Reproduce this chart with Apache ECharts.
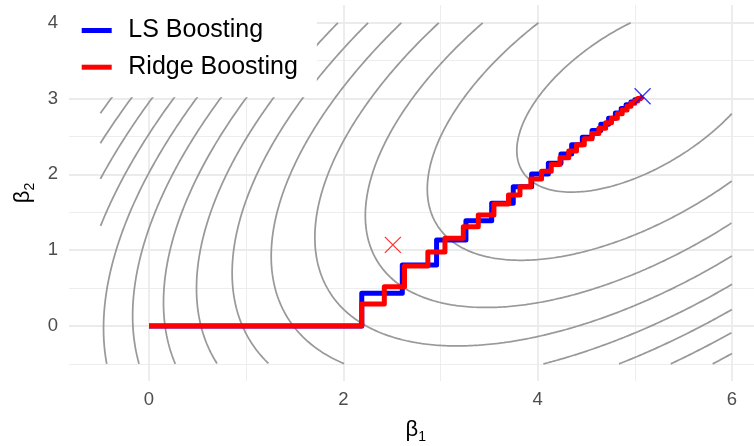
<!DOCTYPE html>
<html><head><meta charset="utf-8">
<script src="https://cdn.jsdelivr.net/npm/echarts@6/dist/echarts.min.js"></script>
<style>html,body{margin:0;padding:0;background:#fff}#c{width:754px;height:446px}</style>
</head><body><div id="c"></div>
<script>
// ---- data ----
// staircase corner points (horizontal move, then vertical move)
const lsX = [0, 2.19, 2.607, 2.96, 3.262, 3.527, 3.749, 3.938, 4.11, 4.24, 4.35, 4.46, 4.56, 4.65, 4.73, 4.80, 4.86, 4.91, 4.96, 5.00, 5.03, 5.06, 5.08];
const lsY = [0, 0.431, 0.805, 1.135, 1.389, 1.619, 1.838, 2.005, 2.146, 2.27, 2.39, 2.49, 2.58, 2.66, 2.74, 2.81, 2.87, 2.92, 2.955, 2.985, 3.005, 3.02, 3.03];
const ridgeX = [0, 2.19, 2.422, 2.63, 2.87, 3.046, 3.235, 3.389, 3.55, 3.70, 3.818, 3.93, 4.04, 4.14, 4.23, 4.32, 4.40, 4.48, 4.56, 4.63, 4.70, 4.76, 4.82, 4.87, 4.92, 4.96, 5.00, 5.03, 5.06, 5.08];
const ridgeY = [0, 0.29, 0.519, 0.79, 0.975, 1.157, 1.31, 1.464, 1.61, 1.728, 1.838, 1.94, 2.04, 2.13, 2.22, 2.31, 2.39, 2.47, 2.54, 2.61, 2.68, 2.74, 2.80, 2.85, 2.90, 2.94, 2.97, 3.00, 3.02, 3.03];
const lsMarker = [5.08, 3.03];
const ridgeMarker = [2.51, 1.07];
// contour function Q = a*dx^2 + 2*h*dx*dy + d*dy^2 around the LS solution
const contourCenter = [5.08, 3.03];
const contourForm = [1, -0.579, 1.049];
const contourLevels = [1.14, 3.34, 5.54, 7.74, 9.94, 12.14, 14.34, 16.54, 18.74, 20.94, 23.14, 25.34, 27.54, 29.74, 31.94, 34.14, 36.34, 38.54];
const contourRangeX = [-0.5, 6];
const contourRangeY = [-0.5, 4];
const xTicks = [0, 2, 4, 6];
const xMinor = [1, 3, 5];
const yTicks = [0, 1, 2, 3, 4];
const yMinor = [-0.5, 0.5, 1.5, 2.5, 3.5];
const seriesNames = ['LS Boosting', 'Ridge Boosting'];

const FONT = 'Liberation Sans, Arial, sans-serif';

function contourArcs(L) {
  const [a, h, d] = contourForm;
  const [c1, c2] = contourCenter;
  const tr = a + d, det = a * d - h * h;
  const disc = Math.sqrt(tr * tr / 4 - det);
  const l1 = tr / 2 + disc, l2 = tr / 2 - disc;
  let v1 = [l1 - d, h];
  const n = Math.hypot(v1[0], v1[1]);
  v1 = [v1[0] / n, v1[1] / n];
  const v2 = [-v1[1], v1[0]];
  const r1 = Math.sqrt(L / l1), r2 = Math.sqrt(L / l2);
  const pt = t => {
    const u = r1 * Math.cos(t), w = r2 * Math.sin(t);
    return [c1 + u * v1[0] + w * v2[0], c2 + u * v1[1] + w * v2[1]];
  };
  const inside = p => p[0] >= contourRangeX[0] && p[0] <= contourRangeX[1] && p[1] >= contourRangeY[0] && p[1] <= contourRangeY[1];
  const N = 2000;
  let t0 = null;
  for (let i = 0; i < N; i++) { const t = 2 * Math.PI * i / N; if (!inside(pt(t))) { t0 = t; break; } }
  if (t0 === null) {
    const arr = [];
    for (let i = 0; i <= N; i++) arr.push(pt(2 * Math.PI * i / N));
    return [arr];
  }
  const edge = (tin, tout) => {
    for (let k = 0; k < 40; k++) { const m = (tin + tout) / 2; if (inside(pt(m))) tin = m; else tout = m; }
    return pt(tin);
  };
  const arcs = [];
  let cur = null, prevT = t0, prevIn = false;
  for (let i = 1; i <= N; i++) {
    const t = t0 + 2 * Math.PI * i / N;
    const p = pt(t), ins = inside(p);
    if (ins && !prevIn) { cur = [edge(t, prevT)]; cur.push(p); }
    else if (ins && prevIn) { cur.push(p); }
    else if (!ins && prevIn) { cur.push(edge(prevT, t)); arcs.push(cur); cur = null; }
    prevT = t; prevIn = ins;
  }
  return arcs;
}

const series = [];
contourLevels.forEach(L => {
  contourArcs(L).forEach(arc => {
    series.push({
      type: 'line', data: arc, showSymbol: false, symbol: 'none', silent: true, z: 1,
      lineStyle: { color: '#999999', width: 1.75 }, animation: false
    });
  });
});
series.push({
  name: seriesNames[0], type: 'line', step: 'end', color: '#0000FF',
  data: lsX.map((x, i) => [x, lsY[i]]), showSymbol: false, symbol: 'none', z: 3,
  lineStyle: { color: '#0000FF', width: 5, join: 'round' }, animation: false
});
series.push({
  name: seriesNames[1], type: 'line', step: 'end', color: '#FF0000',
  data: ridgeX.map((x, i) => [x, ridgeY[i]]), showSymbol: false, symbol: 'none', z: 4,
  lineStyle: { color: '#FF0000', width: 5, join: 'round' }, animation: false
});
const xSym = 'path://M0,0L10,10M10,0L0,10';
series.push({
  type: 'scatter', data: [lsMarker], symbol: xSym, symbolSize: 16, z: 5, silent: true,
  itemStyle: { color: 'rgba(0,0,0,0)', borderColor: '#0000FF', borderWidth: 1.3 }, animation: false
});
series.push({
  type: 'scatter', data: [ridgeMarker], symbol: xSym, symbolSize: 16, z: 5, silent: true,
  itemStyle: { color: 'rgba(0,0,0,0)', borderColor: '#FF0000', borderWidth: 1.3 }, animation: false
});

const xMin = -0.823, xMax = 6.314, yMin = -0.726, yMax = 4.235;
const chart = echarts.init(document.getElementById('c'), null, { renderer: 'canvas' });
chart.setOption({
  animation: false,
  backgroundColor: '#fff',
  grid: { left: 69, top: 5, width: 693.5, height: 376, containLabel: false, outerBoundsMode: 'none' },
  legend: {
    data: seriesNames, orient: 'vertical', left: 69, top: 5,
    padding: [13, 19, 17.5, 12.7], backgroundColor: '#fff',
    itemWidth: 30, itemHeight: 5, itemGap: 11.7, icon: 'rect', selectedMode: false, z: 10,
    textStyle: { fontSize: 25, color: '#000', fontFamily: FONT, padding: [0, 0, 0, 11.6] }
  },
  xAxis: [{
    type: 'value', min: xMin, max: xMax,
    axisLine: { show: false }, axisTick: { show: false, customValues: xTicks },
    axisLabel: { customValues: xTicks, fontSize: 18.5, color: '#4D4D4D', margin: 9, fontFamily: FONT },
    splitLine: { show: true, lineStyle: { color: '#EBEBEB', width: 1.8 } },
    name: '{a|β}{b|1}', nameLocation: 'middle', nameGap: 38,
    nameTextStyle: { rich: {
      a: { fontSize: 22, lineHeight: 22, fontFamily: FONT, color: '#000', verticalAlign: 'top' },
      b: { fontSize: 14, lineHeight: 14, fontFamily: FONT, color: '#000', verticalAlign: 'top', padding: [11.3, 0, 0, 0] }
    } }
  }, {
    type: 'value', position: 'top', min: xMin, max: xMax,
    axisLine: { show: false }, axisTick: { show: false, customValues: xMinor },
    axisLabel: { show: false, customValues: xMinor },
    splitLine: { show: true, lineStyle: { color: '#EBEBEB', width: 0.9 } }
  }],
  yAxis: [{
    type: 'value', min: yMin, max: yMax,
    axisLine: { show: false }, axisTick: { show: false, customValues: yTicks },
    axisLabel: { customValues: yTicks, fontSize: 18.5, color: '#4D4D4D', margin: 11, fontFamily: FONT },
    splitLine: { show: true, lineStyle: { color: '#EBEBEB', width: 1.8 } },
    name: '{a|β}{b|2}', nameLocation: 'middle', nameGap: 35,
    nameTextStyle: { rich: {
      a: { fontSize: 22, lineHeight: 22, fontFamily: FONT, color: '#000', verticalAlign: 'top' },
      b: { fontSize: 14, lineHeight: 14, fontFamily: FONT, color: '#000', verticalAlign: 'top', padding: [11.3, 0, 0, 0] }
    } }
  }, {
    type: 'value', position: 'right', min: yMin, max: yMax,
    axisLine: { show: false }, axisTick: { show: false, customValues: yMinor },
    axisLabel: { show: false, customValues: yMinor },
    splitLine: { show: true, lineStyle: { color: '#EBEBEB', width: 0.9 } }
  }],
  series: series
});
</script></body></html>
